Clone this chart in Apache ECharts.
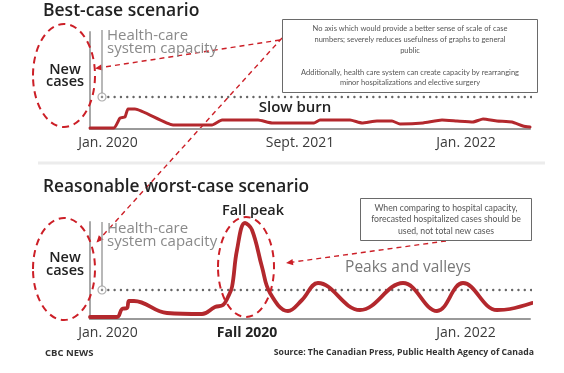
<!DOCTYPE html>
<html><head><meta charset="utf-8">
<script src="https://cdn.jsdelivr.net/npm/echarts@6/dist/echarts.min.js"></script>
<style>html,body{margin:0;padding:0;background:#fff}#c{width:564px;height:373px}</style>
</head><body><div id="c"></div>
<script>
// ---- data (x = week index, y = relative new cases) ----
const bestWeeks  = [0, 6, 7.5, 8.75, 9.5, 11.25, 20.75, 30.5, 33, 42, 45.5, 56, 57.5, 65, 68, 71.75, 75.5, 77.5, 83.25, 88, 91.75, 95.75, 98.25, 101.75, 105.5, 108.25, 110];
const bestCases  = [1, 1, 11, 12, 20, 20, 4, 4, 9, 9, 6, 6, 9, 9, 6, 8, 8, 5, 6, 9, 8, 7, 10, 8, 7, 3, 2];
const worstWeeks = [0, 6.75, 8, 9.25, 9.75, 11, 19.25, 28, 31.25, 33.25, 34.5, 35.5, 36.75, 38.75, 40.5, 43, 45, 49.5, 53, 57, 67.5, 78.25, 86.75, 93.25, 101.75, 105, 110.5];
const worstCases = [2, 2, 10, 11, 18, 18, 6, 5, 12, 14, 22, 32, 69, 96, 89, 52, 26, 8, 19, 36, 9, 36, 8, 36, 9, 10, 16];
const bestCapacity = 32;
const worstCapacity = 29;
const capacityWeek = 3;
const bestTickValues = [4.5, 52.5, 94];
const bestTickLabels = ['Jan. 2020', 'Sept. 2021', 'Jan. 2022'];
const worstTickValues = [4.5, 39.25, 94];
const worstTickLabels = ['Jan. 2020', 'Fall 2020', 'Jan. 2022'];
const boldTicks = ['Fall 2020'];

const RED = '#b3282d';
const ANN = '#cc1f27';
const zip = (a, b) => a.map((v, i) => [v, b[i]]);

function xAxisFor(gi, vals, labels) {
  return {
    gridIndex: gi, type: 'value', min: 0, max: 110,
    axisLine: { show: true, lineStyle: { color: '#9a9a9a', width: 2 } },
    axisTick: { show: false }, splitLine: { show: false },
    axisLabel: {
      customValues: vals, margin: 7, color: '#3a3a3a',
      fontFamily: 'Open Sans', fontSize: 14,
      formatter: v => {
        const i = vals.indexOf(v); if (i < 0) return '';
        const t = labels[i];
        return boldTicks.includes(t) ? '{b|' + t + '}' : t;
      },
      rich: { b: { fontWeight: 'bold', fontFamily: 'Open Sans', fontSize: 14, color: '#222' } }
    }
  };
}
function yAxisFor(gi) {
  return {
    gridIndex: gi, type: 'value', min: 0, max: 97,
    axisLine: { show: true, lineStyle: { color: '#a8a8a8', width: 2 } },
    axisTick: { show: false }, axisLabel: { show: false }, splitLine: { show: false }
  };
}
function capSeries(gi, cap, vTop) {
  return [
    { type: 'line', xAxisIndex: gi, yAxisIndex: gi, clip: false, silent: true, showSymbol: false,
      data: [[capacityWeek, cap], [110.75, cap]],
      lineStyle: { color: '#666', width: 2.4, cap: 'round', type: [0.01, 6.3] } },
    { type: 'line', xAxisIndex: gi, yAxisIndex: gi, clip: false, silent: true, showSymbol: false,
      data: [[capacityWeek, cap], [capacityWeek, vTop]],
      lineStyle: { color: '#a0a0a0', width: 1.5 } },
    { type: 'scatter', xAxisIndex: gi, yAxisIndex: gi, clip: false, silent: true,
      data: [[capacityWeek, cap]], symbol: 'circle', symbolSize: 8,
      itemStyle: { color: '#fff', borderColor: '#999', borderWidth: 1.2 }, z: 5 },
    { type: 'scatter', xAxisIndex: gi, yAxisIndex: gi, clip: false, silent: true,
      data: [[capacityWeek, cap]], symbol: 'circle', symbolSize: 2.5,
      itemStyle: { color: '#777' }, z: 6 }
  ];
}

function arrow(x1, y1, x2, y2, head) {
  const out = [{ type: 'line', silent: true, shape: { x1, y1, x2, y2 },
    style: { stroke: ANN, lineWidth: 1.4, lineDash: [5, 4] } }];
  if (head) {
    const a = Math.atan2(y2 - y1, x2 - x1), L = 7, W = 3.2;
    const bx = x2 - L * Math.cos(a), by = y2 - L * Math.sin(a);
    out.push({ type: 'polygon', silent: true, shape: { points: [[x2, y2],
      [bx + W * Math.sin(a), by - W * Math.cos(a)], [bx - W * Math.sin(a), by + W * Math.cos(a)]] },
      style: { fill: ANN } });
  }
  return out;
}
function ellipse(cx, cy, rx, ry) {
  return { type: 'ellipse', silent: true, shape: { cx, cy, rx, ry },
    style: { fill: 'none', stroke: ANN, lineWidth: 2, lineDash: [7, 5] }, z: 20 };
}
function txt(text, x, y, font, fill, align) {
  return { type: 'text', silent: true, x, y,
    style: { text, font, fill, textAlign: align || 'left', textVerticalAlign: 'middle' }, z: 10 };
}

const box1Lines = ['No axis which would provide a better sense of scale of case',
  'numbers; severely reduces usefulness of graphs to general', 'public', '',
  'Additionally, health care system can create capacity by rearranging',
  'minor hospitalizations and elective surgery'];
const box2Lines = ['When comparing to hospital capacity,',
  'forecasted hospitalized cases should be', 'used, not total new cases'];

const graphics = [
  txt('Best-case scenario', 43, 11, '600 17.5px "Open Sans"', '#222'),
  txt('Reasonable worst-case scenario', 43, 187, '600 17.3px "Open Sans"', '#222'),
  { type: 'rect', silent: true, shape: { x: 38, y: 161.5, width: 507, height: 3 }, style: { fill: '#ececec' } },
  txt('Health-care', 107, 36, '15px "Open Sans"', '#8a8a8a'),
  txt('system capacity', 107, 48.5, '15px "Open Sans"', '#8a8a8a'),
  txt('Health-care', 107, 229, '15px "Open Sans"', '#8a8a8a'),
  txt('system capacity', 107, 241.5, '15px "Open Sans"', '#8a8a8a'),
  txt('New', 65, 70, '600 14.5px "Open Sans"', '#222', 'center'),
  txt('cases', 65, 82, '600 14.5px "Open Sans"', '#222', 'center'),
  txt('New', 65, 258, '600 14.5px "Open Sans"', '#222', 'center'),
  txt('cases', 65, 271, '600 14.5px "Open Sans"', '#222', 'center'),
  txt('Slow burn', 295, 108, '600 15px "Open Sans"', '#222', 'center'),
  txt('Fall peak', 253, 211, '600 14.5px "Open Sans"', '#222', 'center'),
  txt('Peaks and valleys', 408, 268, '15.5px "Open Sans"', '#777', 'center'),
  txt('CBC NEWS', 45, 353, 'bold 9.5px "Open Sans"', '#333'),
  txt('Source: The Canadian Press, Public Health Agency of Canada', 534, 353, 'bold 8.7px "Open Sans"', '#333', 'right'),
  { type: 'rect', silent: true, shape: { x: 282.5, y: 19.5, width: 255, height: 73 },
    style: { fill: '#fff', stroke: '#6a6a6a', lineWidth: 1 }, z: 8 },
  { type: 'text', silent: true, x: 410, y: 29 - 5.4, z: 10,
    style: { text: box1Lines.join('\n'), font: '7.5px Lato', fill: '#555', textAlign: 'center', textVerticalAlign: 'top', lineHeight: 10.8 } },
  { type: 'rect', silent: true, shape: { x: 360.5, y: 198.5, width: 171, height: 42 },
    style: { fill: '#fff', stroke: '#6a6a6a', lineWidth: 1 }, z: 8 },
  { type: 'text', silent: true, x: 446, y: 208 - 5.75, z: 10,
    style: { text: box2Lines.join('\n'), font: '8.7px Lato', fill: '#555', textAlign: 'center', textVerticalAlign: 'top', lineHeight: 11.5 } },
  ellipse(64, 75.5, 31, 51.5),
  ellipse(64, 269, 31, 51),
  ellipse(246, 267, 28, 50),
  ...arrow(280, 40, 95, 68.5, true),
  ...arrow(282, 38, 96.5, 242.5, true),
  ...arrow(446, 241, 286, 263, true)
];

const chart = echarts.init(document.getElementById('c'), null, { renderer: 'canvas' });
chart.setOption({
  animation: false,
  grid: [
    { left: 90, width: 440, top: 32, height: 97 },
    { left: 90, width: 440, top: 222, height: 97 }
  ],
  xAxis: [xAxisFor(0, bestTickValues, bestTickLabels), xAxisFor(1, worstTickValues, worstTickLabels)],
  yAxis: [yAxisFor(0), yAxisFor(1)],
  series: [
    ...capSeries(0, bestCapacity, 99),
    ...capSeries(1, worstCapacity, 97),
    { type: 'line', xAxisIndex: 0, yAxisIndex: 0, clip: false, showSymbol: false, z: 4,
      data: zip(bestWeeks, bestCases), smooth: 0.15,
      lineStyle: { color: RED, width: 3, join: 'round', cap: 'round' } },
    { type: 'line', xAxisIndex: 1, yAxisIndex: 1, clip: false, showSymbol: false, z: 4,
      data: zip(worstWeeks, worstCases), smooth: 0.4,
      lineStyle: { color: RED, width: 3.8, join: 'round', cap: 'round' } }
  ],
  graphic: graphics
});
</script>
</body></html>
